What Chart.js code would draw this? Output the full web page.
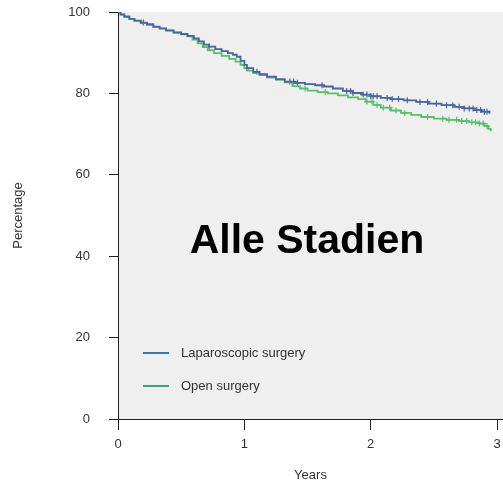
<!DOCTYPE html>
<html>
<head>
<meta charset="utf-8">
<script src="https://cdn.jsdelivr.net/npm/chart.js@4/dist/chart.umd.min.js"></script>
<style>
  html, body { margin: 0; padding: 0; background: #ffffff; }
  #wrap { width: 503px; height: 488px; }
</style>
</head>
<body>
<div id="wrap"><canvas id="km" width="503" height="488"></canvas></div>
<script>
// Kaplan-Meier survival, all stages: time in years, survival in percent
const lapTimes = [0, 0.02, 0.05, 0.09, 0.13, 0.18, 0.23, 0.28, 0.33, 0.38, 0.44, 0.50, 0.55, 0.60, 0.64, 0.68,
  0.72, 0.77, 0.82, 0.87, 0.91, 0.94, 0.97, 1.00, 1.02, 1.07, 1.12, 1.18, 1.25, 1.32, 1.40, 1.48, 1.56, 1.63,
  1.70, 1.78, 1.86, 1.93, 2.00, 2.08, 2.16, 2.26, 2.36, 2.46, 2.56, 2.66, 2.74, 2.82, 2.88, 2.94];
const lapSurv = [100, 99.4, 98.9, 98.3, 97.9, 97.4, 97.0, 96.4, 96.0, 95.5, 95.0, 94.6, 94.1, 93.5, 92.8, 92.0,
  91.5, 90.9, 90.4, 89.9, 89.5, 89.0, 88.0, 87.0, 86.2, 85.3, 84.7, 84.1, 83.5, 82.9, 82.6, 82.3, 82.0, 81.7,
  81.2, 80.6, 80.1, 79.7, 79.3, 78.9, 78.6, 78.3, 77.9, 77.5, 77.1, 76.7, 76.3, 75.9, 75.5, 75.0];

const openTimes = [0, 0.02, 0.05, 0.09, 0.13, 0.18, 0.23, 0.28, 0.33, 0.38, 0.44, 0.50, 0.55, 0.59, 0.63, 0.67,
  0.71, 0.76, 0.82, 0.88, 0.93, 0.97, 1.00, 1.03, 1.07, 1.12, 1.18, 1.25, 1.32, 1.38, 1.44, 1.50, 1.58, 1.66,
  1.74, 1.82, 1.90, 1.96, 2.02, 2.08, 2.16, 2.24, 2.32, 2.40, 2.50, 2.60, 2.70, 2.78, 2.86, 2.90, 2.93, 2.95];
const openSurv = [100, 99.3, 98.8, 98.3, 97.8, 97.3, 96.8, 96.3, 95.9, 95.4, 94.9, 94.5, 94.0, 93.2, 92.3, 91.4,
  90.6, 89.9, 89.2, 88.5, 87.8, 87.0, 86.2, 85.6, 85.0, 84.5, 83.9, 83.3, 82.7, 81.8, 81.2, 80.7, 80.3, 80.0,
  79.5, 79.0, 78.6, 78.0, 77.2, 76.5, 75.8, 75.2, 74.7, 74.2, 73.8, 73.5, 73.2, 72.9, 72.6, 72.0, 71.3, 70.7];

// Censoring times (tick marks on the curves)
const lapCensored = [0.20, 0.72, 1.02, 1.10, 1.36, 1.39, 1.42, 1.615, 1.81, 1.84, 1.86, 1.94, 1.97, 2.00, 2.02,
  2.05, 2.13, 2.17, 2.22, 2.29, 2.39, 2.45, 2.52, 2.60, 2.65, 2.70, 2.74, 2.78, 2.81, 2.84, 2.87, 2.90, 2.92];
const openCensored = [1.48, 1.64, 1.97, 2.01, 2.05, 2.10, 2.15, 2.20, 2.27, 2.45, 2.57, 2.62, 2.68, 2.72, 2.76,
  2.80, 2.83, 2.86, 2.89, 2.92];

const seriesNames = ['Laparoscopic surgery', 'Open surgery'];
const xTickValues = [0, 1, 2, 3];
const yTickValues = [0, 20, 40, 60, 80, 100];
const panelTitle = 'Alle Stadien';

const lapColor = '#4a64a2';
const openColor = '#56c168';
const lapKeyColor = '#3d77a6';
const openKeyColor = '#3ba67e';
const textColor = '#333333';
const axisColor = '#1e1e1e';
const FONT = 'Arial, "Liberation Sans", sans-serif';

function toPoints(ts, vs) { return ts.map((t, i) => ({ x: t, y: vs[i] })); }

// value of a step function at time t (last event at or before t)
function stepValue(ts, vs, t) {
  let v = vs[0];
  for (let i = 0; i < ts.length; i++) { if (ts[i] <= t) v = vs[i]; else break; }
  return v;
}
function censorPoints(cs, ts, vs) { return cs.map(t => ({ x: t, y: stepValue(ts, vs, t) })); }

const panelBackground = {
  id: 'panelBackground',
  beforeDraw(chart) {
    const { ctx, chartArea: a } = chart;
    ctx.save();
    ctx.fillStyle = '#efefef';
    ctx.fillRect(a.left, a.top, a.right - a.left, a.bottom - a.top);
    ctx.restore();
  }
};

const overlay = {
  id: 'overlay',
  afterDraw(chart) {
    const { ctx } = chart;
    ctx.save();
    // centred panel heading
    ctx.fillStyle = '#000000';
    ctx.font = 'bold 41px ' + FONT;
    ctx.textAlign = 'center';
    ctx.textBaseline = 'alphabetic';
    ctx.fillText(panelTitle, 307, 253);
    // key
    const rows = [
      { name: seriesNames[0], color: lapKeyColor, y: 353 },
      { name: seriesNames[1], color: openKeyColor, y: 386 }
    ];
    ctx.font = '13px ' + FONT;
    ctx.textAlign = 'left';
    ctx.textBaseline = 'middle';
    rows.forEach(r => {
      ctx.strokeStyle = r.color;
      ctx.lineWidth = 2;
      ctx.beginPath();
      ctx.moveTo(143, r.y);
      ctx.lineTo(169, r.y);
      ctx.stroke();
      ctx.fillStyle = textColor;
      ctx.fillText(r.name, 181, r.y);
    });
    ctx.restore();
  }
};

new Chart(document.getElementById('km'), {
  type: 'line',
  data: {
    datasets: [
      { label: seriesNames[0], data: toPoints(lapTimes, lapSurv), borderColor: lapColor, borderWidth: 1.8,
        stepped: true, pointRadius: 0, fill: false },
      { label: seriesNames[1], data: toPoints(openTimes, openSurv), borderColor: openColor, borderWidth: 1.8,
        stepped: true, pointRadius: 0, fill: false },
      { label: 'lapCensor', type: 'scatter', data: censorPoints(lapCensored, lapTimes, lapSurv),
        pointStyle: 'cross', pointRadius: 3, borderColor: lapColor, borderWidth: 1.2, showLine: false },
      { label: 'openCensor', type: 'scatter', data: censorPoints(openCensored, openTimes, openSurv),
        pointStyle: 'cross', pointRadius: 3, borderColor: openColor, borderWidth: 1.2, showLine: false }
    ]
  },
  options: {
    responsive: false,
    animation: false,
    devicePixelRatio: 1,
    layout: { autoPadding: false, padding: { top: 12, right: 0, left: 0, bottom: 0 } },
    plugins: { legend: { display: false }, tooltip: { enabled: false } },
    scales: {
      x: {
        type: 'linear', position: 'bottom', min: 0, max: 3.047,
        afterBuildTicks: s => { s.ticks = xTickValues.map(v => ({ value: v })); },
        afterFit: s => { s.height = 69; s.paddingLeft = 0; s.paddingRight = 0; },
        ticks: { color: textColor, font: { family: FONT, size: 13 }, padding: 7, maxRotation: 0,
          callback: v => String(v) },
        grid: { drawOnChartArea: false, drawTicks: true, tickLength: 11, tickColor: axisColor, tickWidth: 1 },
        border: { display: true, color: axisColor, width: 1 },
        title: { display: true, text: 'Years', color: textColor, font: { family: FONT, size: 13 },
          padding: { top: 0, bottom: 5 } }
      },
      y: {
        type: 'linear', position: 'left', min: 0, max: 100,
        afterBuildTicks: s => { s.ticks = yTickValues.map(v => ({ value: v })); },
        afterFit: s => { s.width = 118; s.paddingTop = 0; s.paddingBottom = 0; },
        ticks: { color: textColor, font: { family: FONT, size: 13 }, padding: 19, callback: v => String(v) },
        grid: { drawOnChartArea: false, drawTicks: true, tickLength: 9, tickColor: axisColor, tickWidth: 1 },
        border: { display: true, color: axisColor, width: 1 },
        title: { display: true, text: 'Percentage', color: textColor, font: { family: FONT, size: 13 },
          padding: { top: 11, bottom: 0 } }
      }
    }
  },
  plugins: [panelBackground, overlay]
});
</script>
</body>
</html>
